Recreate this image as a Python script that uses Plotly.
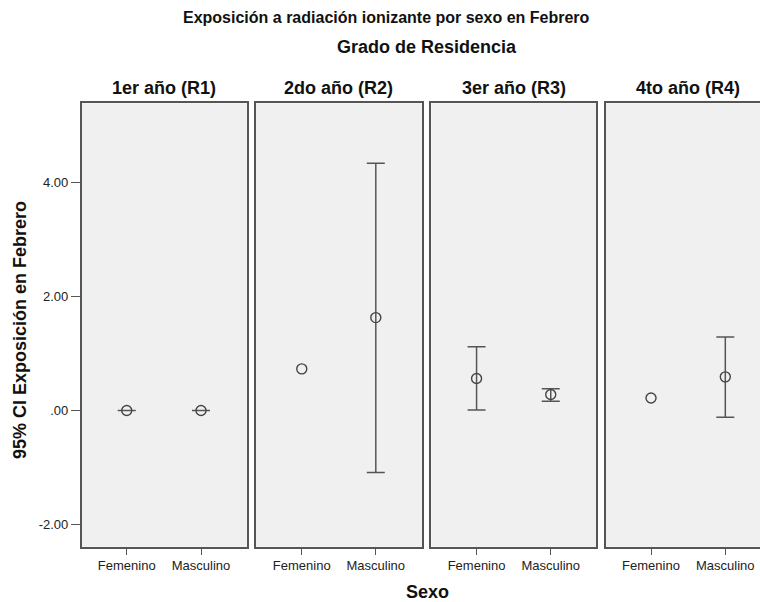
import plotly.graph_objects as go

# ---- data ----
categories = ["Femenino", "Masculino"]
panels = ["1er año (R1)", "2do año (R2)", "3er año (R3)", "4to año (R4)"]
mean_vals = [
    [0.00, 0.00],
    [0.73, 1.63],
    [0.56, 0.28],
    [0.22, 0.59],
]
ci_low = [
    [0.00, 0.00],
    [None, -1.09],
    [0.01, 0.16],
    [None, -0.12],
]
ci_high = [
    [0.00, 0.00],
    [None, 4.34],
    [1.12, 0.38],
    [None, 1.29],
]
y_tickvals = [-2, 0, 2, 4]
y_ticktext = ["-2.00", ".00", "2.00", "4.00"]

W, H = 760, 602
FONT = "Liberation Sans, Arial, sans-serif"
LINE = "#555555"
TXT = "#111111"

# panel pixel extents (left, right)
px_x = [(81.7, 246.7), (256.0, 421.7), (431.3, 596.0), (606.0, 760.0)]
x_ranges = [[-0.606, 1.615], [-0.618, 1.62], [-0.61, 1.61], [-0.606, 1.467]]
y_dom = [1 - 546.7 / H, 1 - 103.3 / H]

marker_style = dict(symbol="circle-open", size=10, color="#444444",
                    line=dict(width=1.4, color="#444444"))

fig = go.Figure()

for i in range(4):
    ax = "" if i == 0 else str(i + 1)
    xs_ci, ys_ci, plus, minus = [], [], [], []
    xs_no, ys_no = [], []
    for c, m, lo, hi in zip(categories, mean_vals[i], ci_low[i], ci_high[i]):
        if lo is None or hi is None:
            xs_no.append(c)
            ys_no.append(m)
        else:
            xs_ci.append(c)
            ys_ci.append(m)
            plus.append(hi - m)
            minus.append(m - lo)
    if xs_ci:
        fig.add_trace(go.Scatter(
            x=xs_ci, y=ys_ci, mode="markers", marker=marker_style,
            error_y=dict(type="data", symmetric=False, array=plus, arrayminus=minus,
                         color=LINE, thickness=1.5, width=9),
            xaxis="x" + ax, yaxis="y" + ax, showlegend=False, hoverinfo="skip",
        ))
    if xs_no:
        fig.add_trace(go.Scatter(
            x=xs_no, y=ys_no, mode="markers", marker=marker_style,
            xaxis="x" + ax, yaxis="y" + ax, showlegend=False, hoverinfo="skip",
        ))

layout = dict(
    width=W, height=H,
    margin=dict(l=0, r=0, t=0, b=0),
    paper_bgcolor="white",
    plot_bgcolor="#F0F0F0",
    font=dict(family=FONT, size=13, color="#222222"),
    showlegend=False,
)

for i in range(4):
    ax = "" if i == 0 else str(i + 1)
    l, r = px_x[i]
    layout["xaxis" + ax] = dict(
        domain=[l / W, r / W], range=x_ranges[i], anchor="y" + ax,
        type="category", categoryorder="array", categoryarray=categories,
        showgrid=False, zeroline=False,
        showline=True, mirror=True, linecolor=LINE, linewidth=1.6,
        ticks="outside", ticklen=6, tickcolor=LINE, tickwidth=1.2,
        tickfont=dict(family=FONT, size=13, color="#222222"),
    )
    layout["yaxis" + ax] = dict(
        domain=y_dom, range=[-2.39, 5.39], anchor="x" + ax,
        showgrid=False, zeroline=False,
        showline=True, mirror=(i < 3), linecolor=LINE, linewidth=1.6,
        tickvals=y_tickvals, ticktext=y_ticktext,
        ticks="outside" if i == 0 else "", ticklen=9, tickcolor=LINE, tickwidth=1.2,
        showticklabels=(i == 0),
        tickfont=dict(family=FONT, size=13, color="#222222"),
    )

annotations = [
    dict(text="<b>Exposición a radiación ionizante por sexo en Febrero</b>",
         x=386 / W, y=1 - 17 / H, xref="paper", yref="paper",
         xanchor="center", yanchor="middle", showarrow=False,
         font=dict(family=FONT, size=16, color=TXT)),
    dict(text="<b>Grado de Residencia</b>",
         x=427 / W, y=1 - 47 / H, xref="paper", yref="paper",
         xanchor="center", yanchor="middle", showarrow=False,
         font=dict(family=FONT, size=18, color=TXT)),
    dict(text="<b>Sexo</b>",
         x=427 / W, y=1 - 592 / H, xref="paper", yref="paper",
         xanchor="center", yanchor="middle", showarrow=False,
         font=dict(family=FONT, size=18, color=TXT)),
    dict(text="<b>95% CI Exposición en Febrero</b>",
         x=20 / W, y=1 - 330 / H, xref="paper", yref="paper",
         xanchor="center", yanchor="middle", showarrow=False, textangle=-90,
         font=dict(family=FONT, size=18, color=TXT)),
]
panel_centers = [164.2, 338.9, 513.7, 688.0]
for name, cx in zip(panels, panel_centers):
    annotations.append(dict(
        text="<b>" + name + "</b>", x=cx / W, y=1 - 88 / H,
        xref="paper", yref="paper", xanchor="center", yanchor="middle",
        showarrow=False, font=dict(family=FONT, size=18, color=TXT)))
layout["annotations"] = annotations

fig.update_layout(**layout)
fig.write_html("out.html")
